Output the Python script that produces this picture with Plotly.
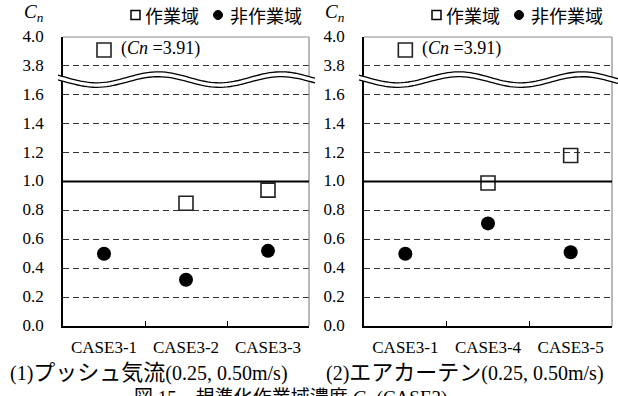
import numpy as np
import plotly.graph_objects as go

# ---------------- data ----------------
cases_left = ["CASE3-1", "CASE3-2", "CASE3-3"]
cases_right = ["CASE3-1", "CASE3-4", "CASE3-5"]
work_left = [3.91, 0.85, 0.94]        # 作業域 (open squares)
nonwork_left = [0.50, 0.32, 0.52]     # 非作業域 (filled circles)
work_right = [3.91, 0.99, 1.18]
nonwork_right = [0.50, 0.71, 0.51]
ytick_values = [0.0, 0.2, 0.4, 0.6, 0.8, 1.0, 1.2, 1.4, 1.6, 3.8, 4.0]
ytick_labels = ["0.0", "0.2", "0.4", "0.6", "0.8", "1.0", "1.2", "1.4", "1.6", "3.8", "4.0"]
caption_left = ("(1)", "プッシュ気流", "(0.25, 0.50m/s)")
caption_right = ("(2)", "エアカーテン", "(0.25, 0.50m/s)")
figure_caption = "図 15　規準化作業域濃度 <i>C<sub>n</sub></i> (CASE3)"
legend_names = ["作業域", "非作業域"]

# broken axis: values up to 1.6 linear, then 3.8-4.0 after the break
def pos(v):
    return v / 0.2 if v <= 1.6 else 9 + (v - 3.8) / 0.2

W, H = 618, 396
def px(x):
    return x / W
def py(y):
    return 1 - y / H

SERIF = "Liberation Serif"
CJK = "Noto Sans CJK JP"

panels = [
    dict(xl=63, xr=309, cases=cases_left, work=work_left, non=nonwork_left,
         xa="x", ya="y", cap=caption_left, capx=149),
    dict(xl=364, xr=612, cases=cases_right, work=work_right, non=nonwork_right,
         xa="x2", ya="y2", cap=caption_right, capx=465),
]
YT, YB = 37, 326

fig = go.Figure()
shapes = []
annotations = []

for i, p in enumerate(panels):
    xs = list(range(len(p["cases"])))
    fig.add_trace(go.Scatter(
        x=xs, y=[pos(v) for v in p["work"]], xaxis=p["xa"], yaxis=p["ya"],
        mode="markers", name=legend_names[0], showlegend=False,
        marker=dict(symbol="square-open", size=14, color="#222",
                    line=dict(width=1.6, color="#222"))))
    fig.add_trace(go.Scatter(
        x=xs, y=[pos(v) for v in p["non"]], xaxis=p["xa"], yaxis=p["ya"],
        mode="markers", name=legend_names[1], showlegend=False,
        marker=dict(symbol="circle", size=14, color="black")))

    sfx = "" if i == 0 else "2"
    fig.update_layout(**{
        "xaxis" + sfx: dict(
            domain=[px(p["xl"]), px(p["xr"])], anchor="y" + sfx,
            range=[-0.5, len(xs) - 0.5], tickmode="array", tickvals=xs,
            ticktext=p["cases"], ticks="", showgrid=False, zeroline=False,
            showline=True, linecolor="black", linewidth=2, automargin=False,
            tickfont=dict(family=SERIF, size=17, color="black"),
            ticklabelstandoff=5,
            minor=dict(tickmode="array", tickvals=[0.5, 1.5], ticks="inside",
                       ticklen=5, tickwidth=1, tickcolor="black", showgrid=False),
            fixedrange=True),
        "yaxis" + sfx: dict(
            domain=[py(YB), py(YT)], anchor="x" + sfx,
            range=[0, 10], tickmode="array",
            tickvals=[pos(v) for v in ytick_values], ticktext=ytick_labels,
            ticks="", showgrid=True, gridcolor="#333", gridwidth=1,
            griddash="6px,4px", zeroline=False, automargin=False,
            showline=True, linecolor="black", linewidth=1.5,
            tickfont=dict(family=SERIF, size=17, color="black"),
            ticklabelstandoff=14, ticklabelshift=-1, fixedrange=True),
    })

    # top and right borders (gray)
    shapes.append(dict(type="line", xref="paper", yref="paper",
                       x0=px(p["xl"]), x1=px(p["xr"]), y0=py(YT), y1=py(YT),
                       line=dict(color="#8a8a8a", width=1.2)))
    shapes.append(dict(type="line", xref="paper", yref="paper",
                       x0=px(p["xr"]), x1=px(p["xr"]), y0=py(YT), y1=py(YB),
                       line=dict(color="#8a8a8a", width=1.2)))
    # reference line at Cn = 1.0
    shapes.append(dict(type="line", xref=p["xa"], yref=p["ya"],
                       x0=-0.5, x1=len(xs) - 0.5, y0=pos(1.0), y1=pos(1.0),
                       line=dict(color="black", width=2)))

    # axis break (double wavy line with white fill)
    x0 = p["xl"] - 5
    x1 = p["xr"] + 6 if i == 0 else W
    xx = np.linspace(x0, x1, 80)
    wave = np.cos(2 * np.pi * (xx - x0 - 100) / 123)
    top = 77.3 - 5.5 * wave
    bot = 82.0 - 5.3 * wave
    poly = "M " + " L ".join(f"{px(a):.5f},{py(b):.5f}" for a, b in zip(xx, top))
    poly += " L " + " L ".join(f"{px(a):.5f},{py(b):.5f}" for a, b in zip(xx[::-1], bot[::-1])) + " Z"
    shapes.append(dict(type="path", xref="paper", yref="paper", path=poly,
                       fillcolor="white", line=dict(width=0), layer="above"))
    for arr in (top, bot):
        pth = "M " + " L ".join(f"{px(a):.5f},{py(b):.5f}" for a, b in zip(xx, arr))
        shapes.append(dict(type="path", xref="paper", yref="paper", path=pth,
                           line=dict(color="black", width=1.3), layer="above"))

    off = p["xl"] - 63
    # legend symbols
    shapes.append(dict(type="rect", xref="paper", yref="paper",
                       x0=px(131 + off), x1=px(140 + off), y0=py(19.5), y1=py(10.5),
                       line=dict(color="black", width=1.5), fillcolor="white"))
    shapes.append(dict(type="circle", xref="paper", yref="paper",
                       x0=px(213.5 + off), x1=px(222.5 + off), y0=py(19.5), y1=py(10.5),
                       line=dict(color="black", width=1), fillcolor="black"))
    annotations.append(dict(xref="paper", yref="paper", x=px(143 + off), y=py(15),
                            xanchor="left", yanchor="middle", showarrow=False,
                            text=legend_names[0], font=dict(family=CJK, size=18, color="black")))
    annotations.append(dict(xref="paper", yref="paper", x=px(228 + off), y=py(15),
                            xanchor="left", yanchor="middle", showarrow=False,
                            text=legend_names[1], font=dict(family=CJK, size=18, color="black")))
    # y axis title C_n
    annotations.append(dict(xref="paper", yref="paper", x=px(34 + off), y=py(13),
                            xanchor="center", yanchor="middle", showarrow=False,
                            text="<i>C<sub>n</sub></i>", font=dict(family=SERIF, size=19, color="black")))
    # value note for the off-scale point
    annotations.append(dict(xref="paper", yref="paper", x=px(119 + off), y=py(49),
                            xanchor="left", yanchor="middle", showarrow=False,
                            text="(<i>Cn</i> =3.91)", font=dict(family=SERIF, size=18, color="black")))
    # panel caption
    c = p["cap"]
    cap_text = c[0] + '<span style="font-size:22px">' + c[1] + "</span>" + c[2]
    annotations.append(dict(xref="paper", yref="paper", x=px(p["capx"]), y=py(372),
                            xanchor="center", yanchor="middle", showarrow=False,
                            text=cap_text, font=dict(family=SERIF + ", " + CJK, size=20, color="black")))

annotations.append(dict(xref="paper", yref="paper", x=px(290), y=py(399),
                        xanchor="center", yanchor="middle", showarrow=False,
                        text=figure_caption, font=dict(family=SERIF + ", " + CJK, size=19, color="black")))

fig.update_layout(
    width=W, height=H, margin=dict(l=0, r=0, t=0, b=0, autoexpand=False),
    paper_bgcolor="white", plot_bgcolor="white", showlegend=False,
    shapes=shapes, annotations=annotations,
)

fig.write_html("out.html", config={"displayModeBar": False},
               post_script="document.body.style.margin='0';document.body.style.padding='0';")
